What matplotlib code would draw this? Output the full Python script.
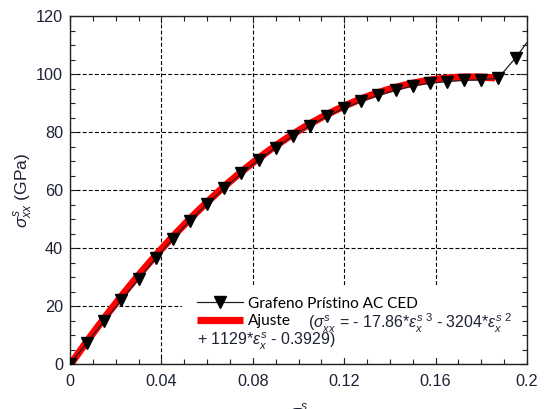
import matplotlib
matplotlib.use("Agg")
import matplotlib.pyplot as plt
from matplotlib.lines import Line2D
from matplotlib.patches import Rectangle
from matplotlib.ticker import MultipleLocator
import numpy as np

# Simulated stress-strain response of pristine graphene (AC, CED)
strain = [0.0, 0.0075, 0.015, 0.0225, 0.03, 0.0375, 0.045, 0.0525, 0.06,
          0.0675, 0.075, 0.0825, 0.09, 0.0975, 0.105, 0.1125, 0.12, 0.1275,
          0.135, 0.1425, 0.15, 0.1575, 0.165, 0.1725, 0.18, 0.1875, 0.195,
          0.2025]
stress = [0.0, 7.4, 14.8, 22.0, 29.3, 36.4, 43.2, 49.4, 55.2,
          60.6, 65.7, 70.3, 74.6, 78.6, 82.2, 85.4, 88.2, 90.6,
          92.6, 94.4, 95.9, 96.8, 97.4, 97.8, 98.0, 98.6, 105.6,
          113.5]

# Cubic fit: sigma = a*eps^3 + b*eps^2 + c*eps + d
fit_coef = [-17.86, -3204.0, 1129.0, -0.3929]
fit_start, fit_end = 0.0, 0.186

x_ticks = [0.0, 0.04, 0.08, 0.12, 0.16, 0.2]
x_tick_labels = ["0", "0.04", "0.08", "0.12", "0.16", "0.2"]
y_ticks = [0, 20, 40, 60, 80, 100, 120]
y_tick_labels = ["0", "20", "40", "60", "80", "100", "120"]

series_label = "Grafeno Prístino AC CED"
fit_label = "Ajuste"
fit_eq_line1 = (r"($\sigma^{s}_{xx}$ = - 17.86*$\varepsilon^{s}_{x}\,{^{3}}$"
                r" - 3204*$\varepsilon^{s}_{x}\,{^{2}}$")
fit_eq_line2 = r"+ 1129*$\varepsilon^{s}_{x}$ - 0.3929)"

plt.rcParams['font.family'] = ['Liberation Sans', 'DejaVu Sans']
plt.rcParams['mathtext.fontset'] = 'custom'
plt.rcParams['mathtext.rm'] = 'Liberation Sans'
plt.rcParams['mathtext.it'] = 'Liberation Sans:italic'
plt.rcParams['mathtext.bf'] = 'Liberation Sans:bold'

fig = plt.figure(figsize=(5.44, 4.09), dpi=100)
ax = fig.add_axes([70 / 544, 45 / 409, 457 / 544, 348 / 409])

eps_fit = np.linspace(fit_start, fit_end, 300)
sig_fit = np.polyval(fit_coef, eps_fit)
ax.plot(eps_fit, sig_fit, color='#ff0000', lw=5.2, solid_capstyle='butt', zorder=3)
ax.plot(strain, stress, color='#222222', lw=0.9, marker='v', ms=8,
        mfc='black', mec='black', zorder=4)

ax.set_xlim(0, 0.2)
ax.set_ylim(0, 120)
ax.set_xticks(x_ticks)
ax.set_xticklabels(x_tick_labels)
ax.set_yticks(y_ticks)
ax.set_yticklabels(y_tick_labels)
ax.xaxis.set_minor_locator(MultipleLocator(0.01))
ax.yaxis.set_minor_locator(MultipleLocator(5))

ax.set_axisbelow(True)
ax.grid(True, which='major', color='black', lw=0.8, linestyle=(0, (3.5, 2)))
ax.tick_params(which='both', direction='in', top=True, right=True,
               color='#222222', width=0.8)
ax.tick_params(which='major', length=5, labelsize=11.7, labelcolor='#1e2235')
ax.tick_params(which='minor', length=3.5)
ax.tick_params(axis='x', which='major', pad=7)
ax.tick_params(axis='y', which='major', pad=5)
for sp in ax.spines.values():
    sp.set_color('#222222')
    sp.set_linewidth(1.0)

ax.set_ylabel(r"$\sigma^{s}_{xx}$ (GPa)", fontsize=12.5, color='#1e2235', labelpad=1)
ax.set_xlabel(r"$\sigma^{s}_{x}$", fontsize=12.5, color='#1e2235', labelpad=10)

# white panel behind the legend block
ax.add_patch(Rectangle((0.245, 0.016), 0.744, 0.212, transform=ax.transAxes,
                       facecolor='white', edgecolor='none', zorder=1))

handles = [Line2D([], [], color='#222222', lw=0.9, marker='v', ms=8,
                  mfc='black', mec='black'),
           Line2D([], [], color='#ff0000', lw=5.2, solid_capstyle='butt')]
leg = ax.legend(handles, [series_label, fit_label], loc='upper left',
                bbox_to_anchor=(0.278, 0.193), frameon=False,
                prop={'family': 'Lato', 'size': 11.1}, handlelength=3.0,
                handletextpad=0.3, labelspacing=0.2, borderpad=0,
                borderaxespad=0, numpoints=1)
leg.set_zorder(6)

ax.text(0.521, 0.118, fit_eq_line1, transform=ax.transAxes, ha='left',
        va='center', fontsize=11.5, color='#1e2235', zorder=6)
ax.text(0.278, 0.066, fit_eq_line2, transform=ax.transAxes, ha='left',
        va='center', fontsize=11.5, color='#1e2235', zorder=6)

fig.savefig("out.png", dpi=100)
